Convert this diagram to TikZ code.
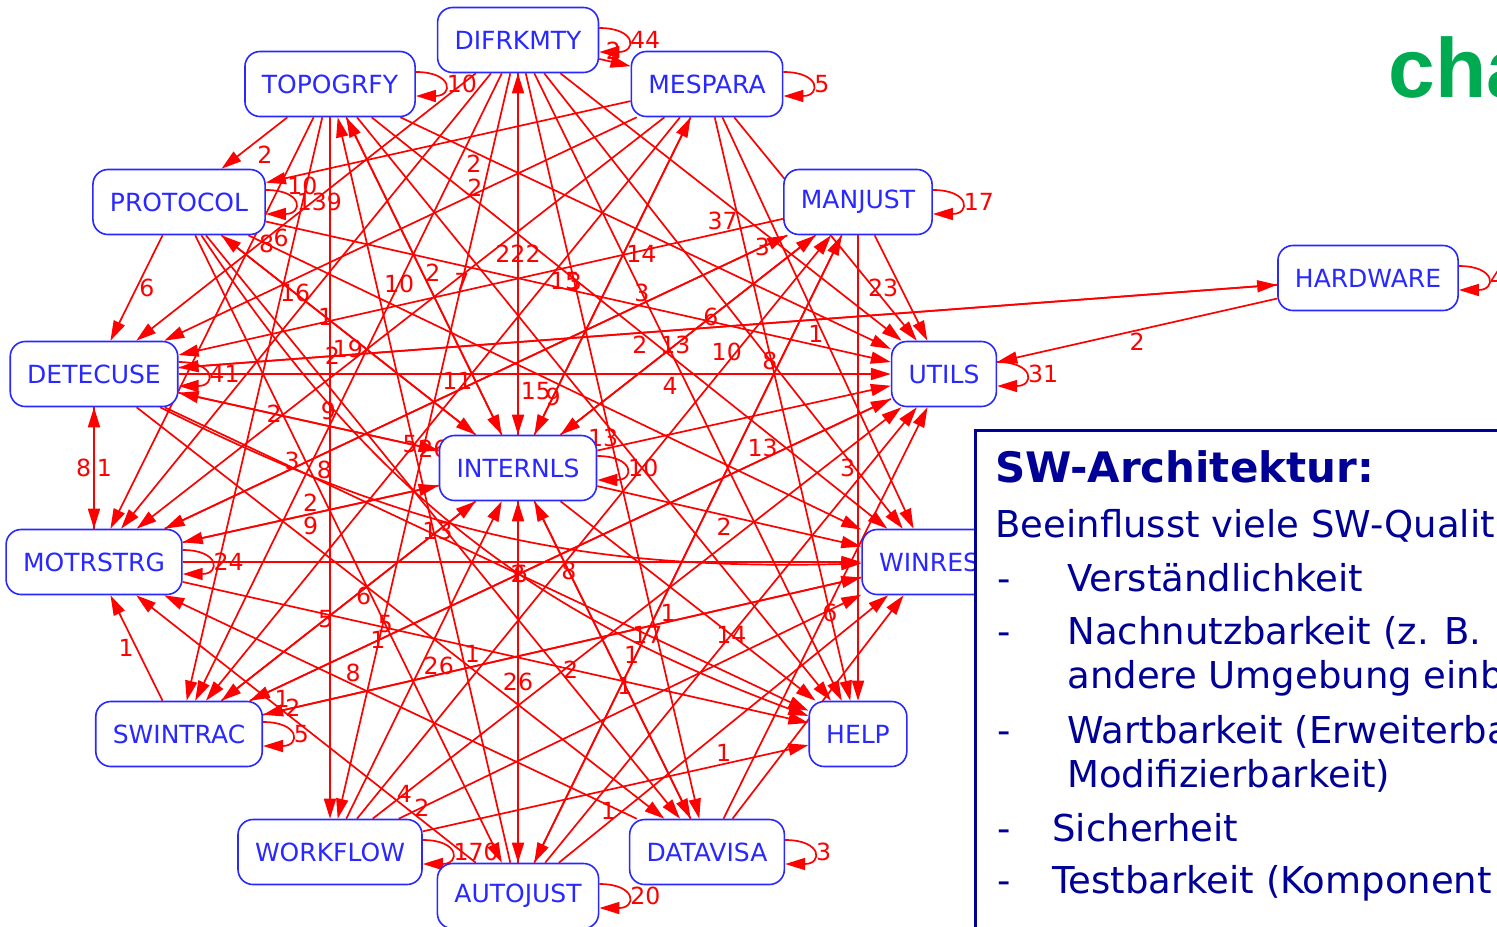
\documentclass[tikz,border=0pt]{standalone}
\usepackage{fontspec}
\setmainfont{DejaVu Sans}
\newfontfamily\headfont{Liberation Sans}
\usepackage{tikz}
\usetikzlibrary{arrows.meta, backgrounds}

\definecolor{modblue}{RGB}{40,40,255}
\definecolor{depred}{RGB}{255,0,0}
\definecolor{panelblue}{RGB}{0,0,150}
\definecolor{headgreen}{RGB}{0,170,80}

\begin{document}
\begin{tikzpicture}[
    x=0.5pt, y=-0.5pt,
    module/.style={draw=modblue, text=modblue, fill=white, line width=0.8pt, rounded corners=7.5pt,
      minimum height=32.5pt, inner xsep=8.5pt, font=\fontsize{12.5}{15}\selectfont},
    dep/.style={draw=depred, line width=0.85pt, -{Triangle[length=10pt,width=6pt]}},
    lbl/.style={text=depred, inner sep=1pt, font=\fontsize{11.8}{13}\selectfont},
    panelframe/.style={draw=panelblue, line width=1.5pt, fill=white},
    paneltxt/.style={text=panelblue, inner sep=0pt, anchor=base west, font=\fontsize{18.5}{22}\selectfont}]
    \useasboundingbox (0,0) rectangle (1497,926);

    % modules
    \node[module] (dif) at (518,40) {DIFRKMTY};
    \node[module] (top) at (330,84) {TOPOGRFY};
    \node[module] (mes) at (707,84) {MESPARA};
    \node[module] (pro) at (179,202) {PROTOCOL};
    \node[module] (man) at (858,202) {MANJUST};
    \node[module] (hw) at (1368,278) {HARDWARE};
    \node[module] (det) at (94,374) {DETECUSE};
    \node[module] (uti) at (944,374) {UTILS};
    \node[module] (int) at (518,468) {INTERNLS};
    \node[module] (mot) at (94,562) {MOTRSTRG};
    \node[module] (win) at (929,562) {WINRES};
    \node[module] (swi) at (179,734) {SWINTRAC};
    \node[module] (hlp) at (858,734) {HELP};
    \node[module] (wf) at (330,852) {WORKFLOW};
    \node[module] (dat) at (707,852) {DATAVISA};
    \node[module] (aut) at (518,896) {AUTOJUST};

    \begin{pgfonlayer}{background}
    % dependencies with counts
    \foreach \a/\b/\l/\p/\s in {
      top/pro/2/.5/north west, dif/mes/2/.45/south, top/uti/2/.15/north, top/win/2/.2/south,
      mes/pro/10/.9/north, dif/det/6/.573/north, pro/win/8/.03/center, pro/det/6/.5/west,
      pro/int/16/.29/center, int/pro/1/.59/center, top/int/2/.49/west, int/top/11/.17/east,
      dif/wf/7/.28/center, dif/swi/10/.335/center, dif/int/222/.5/center, int/dif/15/.12/west,
      int/mes/14/.57/west, mes/int/9/.88/center, man/int/6/.41/center, int/man/13/.45/center,
      dif/dat/3/.28/center, mes/swi/15/.28/west, dif/hlp/3/.35/center, mes/hlp/6/.85/center,
      det/hlp/17/.75/center, swi/win/1/.66/south west, man/det/37/.1/south, mot/man/3/.96/center,
      man/uti/23/.5/east, det/hw/2/.42/north, pro/uti/1/.88/south, hw/det/2/.86/center,
      top/wf/19/.33/west, hw/uti/2/.5/north, int/uti/13/.02/south, swi/uti/13/.8/south,
      det/uti/4/.69/north, wf/man/10/.78/south, aut/man/8/.8/east, aut/top/1/.28/west,
      wf/int/26/.48/west, uti/swi/1/.8/center, det/int/5/.89/center, int/det/26/.02/center,
      det/mot/8/.5/east, mot/det/1/.5/west, pro/dat/9/.28/north east, mes/mot/2/.72/east,
      man/mot/8/.76/north west, int/mot/9/.5/north, mot/int/2/.5/south, swi/int/13/.85/center,
      int/win/2/.48/north, int/aut/2/.2/center, aut/int/26/.5/center, dat/int/8/.78/center,
      int/dat/1/.58/center, man/aut/1/.65/north east, mot/hlp/2/.62/center, win/swi/2/.95/center,
      aut/mot/1/.57/south, int/hlp/14/.67/center, wf/hlp/1/.78/south, aut/win/1/.15/south,
      wf/win/2/.05/center, wf/uti/4/.06/center, swi/mot/1/.5/east, int/swi/5/.59/center,
      pro/aut/5/.62/center, det/dat/6/.43/north, man/hlp/3/.5/east, dat/mot/8/.6/south}
      \draw[dep] (\a) -- node[lbl, pos=\p, anchor=\s]{\l} (\b);
    % these two bend round INTERNLS
    \draw[dep] (det) to[bend right=14] node[lbl, pos=.2, anchor=south east]{3} (win);
    \draw[dep] (pro) to[bend right=18] node[lbl, pos=.6]{6} (hlp);
    % labels hidden under others
    \foreach \a/\b in {dif/uti, dif/win, top/mot, top/swi, mes/det, mes/uti, mes/win,
      dat/uti, aut/uti, dat/win, top/hlp, dif/mot, mot/win}
      \draw[dep] (\a) -- (\b);
    % self references
    \foreach \m/\l in {dif/44, top/10, mes/5, pro/139, man/17, hw/4, det/41, uti/31,
      int/10, mot/24, swi/5, wf/170, dat/3, aut/20}
      \draw[dep] ([yshift=6pt]\m.east) to[out=0, in=0, looseness=4]
        node[lbl, anchor=west]{\l} ([yshift=-6pt]\m.east);
    \end{pgfonlayer}

    \node[text=headgreen, inner sep=0pt, anchor=base west,
      font=\headfont\bfseries\fontsize{42}{48}\selectfont] (head) at (1388,97) {cha};

    % text panel
    \draw[panelframe] (975,430) rectangle (1540,960);
    \node[paneltxt, font=\bfseries\fontsize{21}{25}\selectfont] (ptitle) at (995,482) {SW-Architektur:};
    \node[paneltxt] (pintro) at (995,537) {Beeinflusst viele SW-Qualit};
    \foreach \y/\k in {591/a, 644/b, 743/c, 841/d, 893/e}
      \node[paneltxt] (dash\k) at (997,\y) {-};
    \node[paneltxt] (q1) at (1067,591) {Verständlichkeit};
    \node[paneltxt] (q2) at (1067,644) {Nachnutzbarkeit (z. B.};
    \node[paneltxt] (q2b) at (1067,688) {andere Umgebung einb};
    \node[paneltxt] (q3) at (1067,743) {Wartbarkeit (Erweiterba};
    \node[paneltxt] (q3b) at (1067,787) {Modifizierbarkeit)};
    \node[paneltxt] (q4) at (1052,841) {Sicherheit};
    \node[paneltxt] (q5) at (1052,893) {Testbarkeit (Komponent};
  \end{tikzpicture}
\end{document}
